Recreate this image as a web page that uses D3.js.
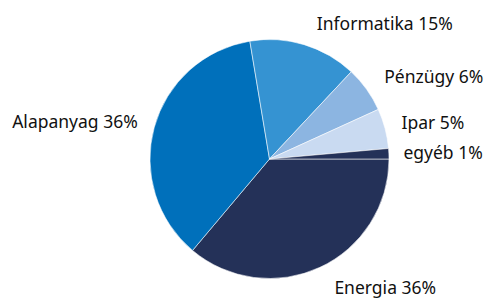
<!DOCTYPE html>
<html>
<head>
<meta charset="utf-8">
<style>
body { margin: 0; background: #fff; }
text {
  font-family: "Noto Sans", sans-serif;
  font-size: 17.5px;
  fill: #111;
}
</style>
</head>
<body>
<script src="https://cdn.jsdelivr.net/npm/d3@7"></script>
<script>

// sectors, clockwise from 3 o'clock
var sectors = ["Energia", "Alapanyag", "Informatika", "Pénzügy", "Ipar", "egyéb"];
var shares  = [36.1, 36.2, 14.6, 6.2, 5.4, 1.4];
var colors  = ["#243158", "#0070bb", "#3593d2", "#8cb5e1", "#c9daf1", "#243158"];

var width = 491,
    height = 298,
    cx = 269.5,
    cy = 159,
    radius = 119.5;

var data = sectors.map(function(s, i) {
  return {name: s, value: shares[i], color: colors[i]};
});

var svg = d3.select("body").append("svg")
    .attr("width", width)
    .attr("height", height);

var g = svg.append("g")
    .attr("transform", "translate(" + cx + "," + cy + ")");

var pie = d3.pie()
    .sort(null)
    .value(function(d) { return d.value; })
    .startAngle(Math.PI / 2)
    .endAngle(Math.PI / 2 + 2 * Math.PI);

var arc = d3.arc()
    .innerRadius(0)
    .outerRadius(radius);

var arcs = pie(data);

g.selectAll("path")
    .data(arcs)
    .enter()
    .append("path")
    .attr("d", arc)
    .style("fill", function(d) { return d.data.color; })
    .style("stroke", "#fff")
    .style("stroke-opacity", 0.55)
    .style("stroke-width", 1);

// labels outside, roughly where the original put them
g.selectAll("text")
    .data(arcs)
    .enter()
    .append("text")
    .attr("text-anchor", function(d) {
      var a = (d.startAngle + d.endAngle) / 2;
      return Math.sin(a) >= 0 ? "start" : "end";
    })
    .attr("x", function(d) {
      var a = (d.startAngle + d.endAngle) / 2,
          s = Math.sin(a),
          off = 12 * Math.abs(Math.cos(a)) - 4;
      return (radius + 18) * s + (s >= 0 ? off : -off);
    })
    .attr("y", function(d) {
      var a = (d.startAngle + d.endAngle) / 2;
      return -(radius + 22) * Math.cos(a);
    })
    .attr("dy", "0.36em")
    .text(function(d) { return d.data.name + " " + Math.round(d.data.value) + "%"; });

</script>
</body>
</html>
